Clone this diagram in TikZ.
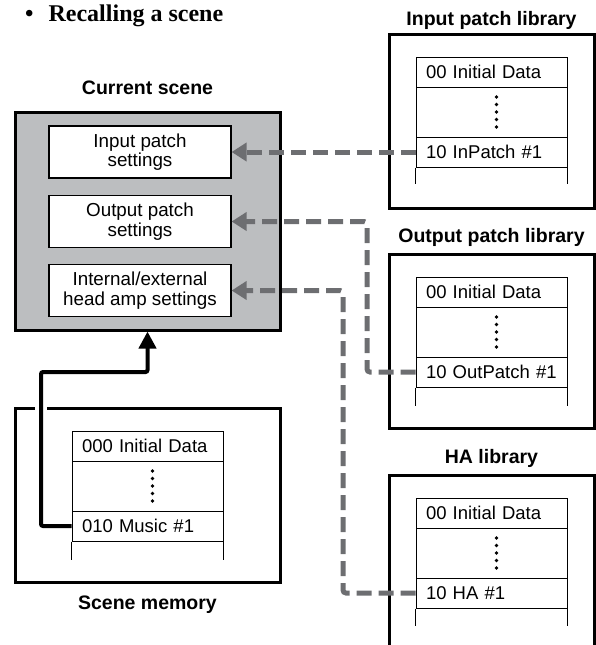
\documentclass[tikz,border=0pt]{standalone}
\usepackage{fontspec}
\setmainfont{Liberation Serif}
\newfontfamily\hv{Liberation Sans}
\usetikzlibrary{arrows.meta,calc}
\definecolor{scenegray}{HTML}{BCBEC0}
\definecolor{linkgray}{HTML}{6D6E71}
\begin{document}
\begin{tikzpicture}[x=1pt,y=-1pt,
	outbox/.style={draw,line width=3pt,minimum width=205pt,minimum height=174pt},
	setbox/.style={draw,fill=white,line width=1.2pt,minimum width=182pt,minimum height=52pt,align=center,font=\hv\fontsize{18.8}{19.5}\selectfont},
	rowbox/.style={draw,line width=1pt,minimum height=30pt,text width=131pt,inner xsep=10pt,align=left,text height=13.3pt,text depth=0pt,font=\hv\fontsize{18.5}{19}\selectfont},
	dotbox/.style={draw,line width=1pt,minimum height=50pt,minimum width=151pt},
	head/.style={font=\hv\bfseries\fontsize{19.5}{20}\selectfont},
	link/.style={draw=linkgray,line width=5pt,dash pattern=on 15pt off 7pt,rounded corners=3pt,-{Triangle[length=15pt,width=18pt]}},
	recall/.style={draw=black,line width=4pt,rounded corners=2pt,-{Triangle[length=17pt,width=17pt]}}]
	\useasboundingbox (0,0) rectangle (595,645);
	\node[anchor=base west,inner sep=0pt,font=\bfseries\fontsize{24}{26}\selectfont] (title) at (25,21) {\textbullet\hspace{15pt}Recalling a scene};
	% current scene
	\node[outbox,fill=scenegray,minimum width=265pt,minimum height=218pt] (cur) at (147.5,221) {};
	\node[head] (curlbl) at (147.5,88) {Current scene};
	\node[setbox] (inset) at (140,152) {Input patch\\settings};
	\node[setbox] (outset) at (140,221.5) {Output patch\\settings};
	\node[setbox] (haset) at (140,290.5) {Internal/external\\head amp settings};
	% input patch library
	\node[outbox] (inlib) at (491.5,121) {};
	\node[head] (inlbl) at (491.5,20) {Input patch library};
	\node[rowbox] (in1) at (491.5,72) {00 Initial Data};
	\node[dotbox] (indots) at (491.5,112) {};
	\node[rowbox] (in3) at (491.5,152) {10 InPatch \#1};
	\draw[line width=1pt] (in3.south west) -- ++(0,16) (in3.south east) -- ++(0,16);
	% output patch library
	\node[outbox] (outlib) at (491.5,341) {};
	\node[head] (outlbl) at (491.5,237) {Output patch library};
	\node[rowbox] (out1) at (491.5,292) {00 Initial Data};
	\node[dotbox] (outdots) at (491.5,332) {};
	\node[rowbox] (out3) at (491.5,372) {10 OutPatch \#1};
	\draw[line width=1pt] (out3.south west) -- ++(0,18) (out3.south east) -- ++(0,18);
	% HA library
	\node[outbox,minimum height=185pt] (halib) at (491.5,567.5) {};
	\node[head] (halbl) at (491.5,458) {HA library};
	\node[rowbox] (ha1) at (491.5,513) {00 Initial Data};
	\node[dotbox] (hadots) at (491.5,553) {};
	\node[rowbox] (ha3) at (491.5,593) {10 HA \#1};
	\draw[line width=1pt] (ha3.south west) -- ++(0,17) (ha3.south east) -- ++(0,17);
	% scene memory
	\node[outbox,minimum width=265pt] (mem) at (147.5,495) {};
	\node[head] (memlbl) at (147.5,605) {Scene memory};
	\node[rowbox] (mem1) at (147.5,446) {000 Initial Data};
	\node[dotbox] (memdots) at (147.5,486) {};
	\node[rowbox] (mem3) at (147.5,526) {010 Music \#1};
	\draw[line width=1pt] (mem3.south west) -- ++(0,18) (mem3.south east) -- ++(0,18);
	% dots
	\foreach \d in {indots,outdots,hadots,memdots}
	\foreach \k in {-2,...,2}
	\fill ($(\d.center)+(5,7.5*\k)$) circle (1.8pt);
	% connectors
	\coordinate (outbend) at (367,221.5);
	\coordinate (habend) at (343,290.5);
	\coordinate (membend) at (41,372);
	\draw[link] (in3.west) -- (inset.east);
	\draw[link] (out3.west) -| (outbend) -- (outset.east);
	\draw[link] (ha3.west) -| (habend) -- (haset.east);
	\draw[white,line width=4pt] (35,408) -- (47,408);
	\draw[recall] (mem3.west) -| (membend) -| (cur.south);
\end{tikzpicture}
\end{document}
